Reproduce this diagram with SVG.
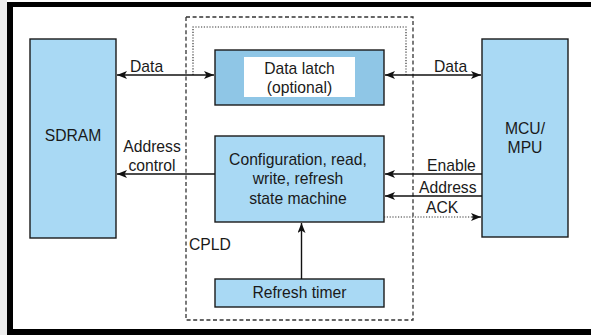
<svg xmlns="http://www.w3.org/2000/svg" width="591" height="335" viewBox="0 0 591 335">
  <style>
    .blk { fill: #a9d9f4; stroke: #1a1a1a; stroke-width: 1.4; }
    .latch { fill: #8fc6e6; stroke: #1a1a1a; stroke-width: 1.4; }
    .txt { font-family: "Liberation Sans", Arial, sans-serif; font-size: 15.7px; fill: #1a1a1a; }
    .mid { text-anchor: middle; }
    .wire { stroke: #111; stroke-width: 1.4; fill: none; }
    .dot { stroke: #333; stroke-width: 1.2; fill: none; stroke-dasharray: 1.2 1.6; }
    .dash { stroke: #333; stroke-width: 1.3; fill: none; stroke-dasharray: 4 2.6; }
  </style>
  <defs>
    <marker id="arr" viewBox="0 0 10 8" markerWidth="10" markerHeight="8" refX="10" refY="4" orient="auto-start-reverse" markerUnits="userSpaceOnUse">
      <path d="M0,0 L10,4 L0,8 L2.5,4 z" fill="#111"/>
    </marker>
  </defs>

  <!-- frame -->
  <rect x="0" y="0" width="591" height="335" fill="#ffffff"/>
  <rect x="0" y="0" width="7" height="335" fill="#ececec"/>
  <rect x="7" y="2" width="584" height="5" fill="#000"/>
  <rect x="7" y="2" width="6" height="333" fill="#000"/>
  <rect x="7" y="329" width="584" height="6" fill="#000"/>

  <!-- CPLD boundary -->
  <g id="cpld">
    <rect class="dash" x="186" y="17" width="227" height="303"/>
    <text class="txt" x="189" y="249.5">CPLD</text>
  </g>

  <g id="sdram">
    <rect class="blk" x="30" y="39" width="86" height="199"/>
    <text class="txt mid" x="73" y="140.5">SDRAM</text>
  </g>

  <g id="mcu">
    <rect class="blk" x="482" y="39" width="86" height="198"/>
    <text class="txt mid" x="525" y="134">MCU/</text>
    <text class="txt mid" x="525" y="153">MPU</text>
  </g>

  <g id="data-latch">
    <rect class="latch" x="215" y="50" width="169" height="55"/>
    <rect x="244" y="57" width="111" height="40" fill="#ffffff"/>
    <text class="txt mid" x="299.5" y="73.5">Data latch</text>
    <text class="txt mid" x="299.5" y="93">(optional)</text>
  </g>

  <g id="state-machine">
    <rect class="blk" x="215" y="136" width="169" height="86"/>
    <text class="txt mid" x="298" y="164.5">Configuration, read,</text>
    <text class="txt mid" x="298" y="184">write, refresh</text>
    <text class="txt mid" x="298" y="203.5">state machine</text>
  </g>

  <g id="refresh-timer">
    <rect class="blk" x="215" y="279" width="169" height="28"/>
    <text class="txt mid" x="299.5" y="298">Refresh timer</text>
  </g>

  <g id="connectors">
    <!-- bypass path around the optional latch -->
    <path class="dot" d="M193,75 V27 H406 V75"/>
    <!-- data buses -->
    <line class="wire" x1="117" y1="75" x2="214" y2="75" marker-start="url(#arr)" marker-end="url(#arr)"/>
    <line class="wire" x1="385" y1="75" x2="481" y2="75" marker-start="url(#arr)" marker-end="url(#arr)"/>
    <!-- address/control to SDRAM -->
    <line class="wire" x1="215" y1="174" x2="117" y2="174" marker-end="url(#arr)"/>
    <!-- MCU to state machine -->
    <line class="wire" x1="482" y1="174" x2="385" y2="174" marker-end="url(#arr)"/>
    <line class="wire" x1="482" y1="196" x2="385" y2="196" marker-end="url(#arr)"/>
    <line class="dot" x1="384" y1="217" x2="473" y2="217"/>
    <line class="wire" x1="472" y1="217" x2="481" y2="217" stroke-width="0" marker-end="url(#arr)"/>
    <!-- refresh timer request -->
    <line class="wire" x1="301.5" y1="279" x2="301.5" y2="223" marker-end="url(#arr)"/>

    <text class="txt" x="130" y="72">Data</text>
    <text class="txt" x="434" y="72">Data</text>
    <text class="txt mid" x="152" y="152">Address</text>
    <text class="txt mid" x="152" y="171">control</text>
    <text class="txt" x="427" y="171">Enable</text>
    <text class="txt" x="419" y="192.5">Address</text>
    <text class="txt" x="426" y="213">ACK</text>
  </g>
</svg>
